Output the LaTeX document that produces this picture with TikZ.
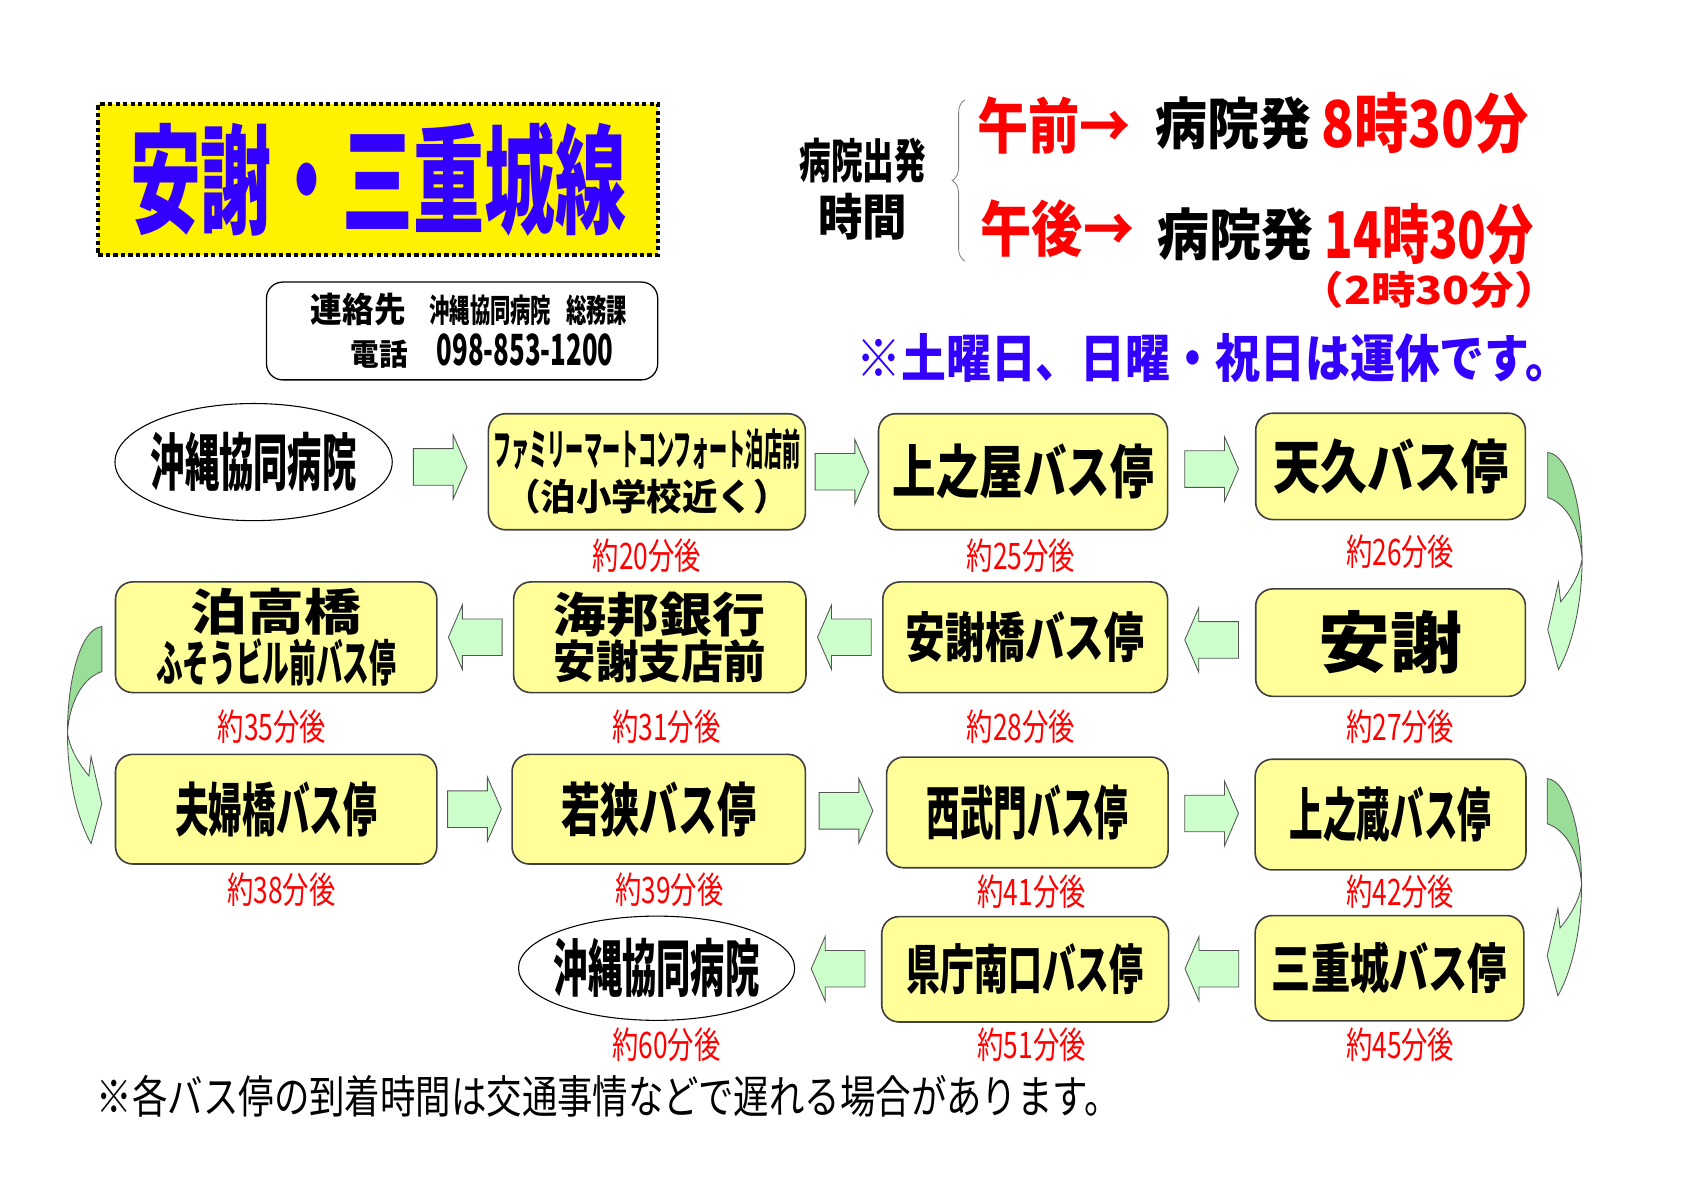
\documentclass[tikz,border=0pt]{standalone}
\usepackage{fontspec}
\usepackage{graphicx}
\setmainfont{Noto Sans CJK JP}
\usetikzlibrary{calc,shapes.geometric,decorations.pathreplacing}
\definecolor{ttl}{HTML}{3300FF}
\definecolor{stopfill}{HTML}{FFFF99}
\definecolor{stopline}{HTML}{404040}
\definecolor{arrfill}{HTML}{CCFFCC}
\definecolor{arrdark}{HTML}{99DD99}
\definecolor{arrline}{HTML}{555555}
\newcommand{\sx}[3]{{\fontsize{#1}{#1}\selectfont\scalebox{#2}[1]{#3}}}
\newcommand{\flowR}[2]{\draw[flow]($(#1.east)!.5!(#2.west)$)++(-25,-17)--++(37,0)--++(0,-13)--++(13,30)--++(-13,30)--++(0,-13)--++(-37,0)--cycle;}
\newcommand{\flowL}[2]{\draw[flow]($(#1.west)!.5!(#2.east)$)++(25,-17)--++(-37,0)--++(0,-13)--++(-13,30)--++(13,30)--++(0,-13)--++(37,0)--cycle;}
\newcommand{\flowbend}[3][]{\begin{scope}[shift={($(#2)!.5!(#3)$)},#1]
\draw[flowback](20,-95)--(20,-53)..controls(38,-47)and(50,-25)..(52,4)..controls(52,-45)and(40,-93)..(20,-95)--cycle;
\draw[flow](52,4)..controls(52,40)and(45,80)..(30,107)--(20,70)--(30,26)--(32,44)..controls(42,32)and(50,18)..(52,4)--cycle;
\end{scope}}
\begin{document}
\begin{tikzpicture}[x=1pt,y=-1pt,
stop/.style={draw=stopline,line width=1.5,fill=stopfill,rounded corners=16,inner sep=0,font=\bfseries},
hosp/.style={draw,ellipse,line width=1,fill=white,inner xsep=-12,inner ysep=0,font=\bfseries},
time/.style={text=red,inner sep=0},
flow/.style={draw=arrline,line width=.8,fill=arrfill},
flowback/.style={draw=arrline,line width=.8,fill=arrdark}]
\path[use as bounding box,fill=white](0,0)rectangle(1568,1108);
\node[fill=yellow,draw,line width=4pt,dash pattern=on 4pt off 3pt,minimum width=521,minimum height=140,inner sep=0](30)at(352,167){\color{ttl}\bfseries\sx{110}{.6}{安謝・三重城線}};
\node[draw,line width=1.2,rounded corners=15,minimum width=364,minimum height=91,align=left,inner sep=0,font=\bfseries\fontsize{30}{40}\selectfont](31)at(430,308){\hspace*{13pt}\sx{32}{.92}{連絡先}\hspace{22pt}\sx{30}{.63}{沖縄協同病院}\hspace{14pt}\sx{30}{.63}{総務課}\\\hspace*{50pt}\sx{28}{.95}{電話}\hspace{27pt}\sx{40}{.6}{098-853-1200}};
\node[align=center,inner sep=0,font=\bfseries\fontsize{44}{53}\selectfont](32)at(803,176){\sx{44}{.67}{病院出発}\\\sx{46}{.9}{時間}};
\draw[decorate,decoration={brace,amplitude=12pt},line width=.8,draw=gray](898,243)--(898,93);
\node[text=red,inner sep=0,font=\bfseries](33)at(981,117){\sx{56}{.85}{午前→}};
\node[inner sep=0,font=\bfseries](34)at(1148,115){\sx{52}{.93}{病院発}};
\node[text=red,inner sep=0,font=\bfseries](35)at(1326,115){\sx{60}{.84}{8時30分}};
\node[text=red,inner sep=0,font=\bfseries](36)at(984,213){\sx{56}{.85}{午後→}};
\node[inner sep=0,font=\bfseries](37)at(1150,218){\sx{52}{.93}{病院発}};
\node[text=red,inner sep=0,font=\bfseries](38)at(1330,218){\sx{60}{.73}{14時30分}};
\node[text=red,inner sep=0,font=\bfseries](39)at(1330,270){\sx{36}{1.15}{（2時30分）}};
\node[text=ttl,inner sep=0,font=\bfseries](40)at(1129,333){\sx{48}{.87}{※土曜日、日曜・祝日は運休です。}};
\node[hosp,minimum width=258,minimum height=109](1)at(236,430){\sx{58}{.55}{沖縄協同病院}};
\node[stop,minimum width=295,minimum height=108,align=center,font=\bfseries\fontsize{40}{42}\selectfont](2)at(602,439){\sx{40}{.42}{ファミリーマートコンフォート泊店前}\\\sx{34}{.97}{（泊小学校近く）}};
\node[stop,minimum width=269,minimum height=108](3)at(952,439){\sx{54}{.75}{上之屋バス停}};
\node[stop,minimum width=251,minimum height=99](4)at(1294,434){\sx{54}{.81}{天久バス停}};
\node[stop,minimum width=251,minimum height=100](5)at(1294,598){\sx{62}{1.08}{安謝}};
\node[stop,minimum width=265,minimum height=103](6)at(954,593){\sx{50}{.74}{安謝橋バス停}};
\node[stop,minimum width=272,minimum height=103,align=center,font=\bfseries\fontsize{44}{43}\selectfont](7)at(614,593){\sx{44}{1.12}{海邦銀行}\\\sx{42}{.94}{安謝支店前}};
\node[stop,minimum width=299,minimum height=103,align=center,font=\bfseries\fontsize{46}{47}\selectfont](8)at(257,593){\sx{46}{1.15}{泊高橋}\\\sx{46}{.54}{ふそうビル前バス停}};
\node[stop,minimum width=299,minimum height=102](9)at(257,753){\sx{54}{.58}{夫婦橋バス停}};
\node[stop,minimum width=273,minimum height=102](10)at(613,753){\sx{54}{.67}{若狭バス停}};
\node[stop,minimum width=262,minimum height=103](11)at(956,756){\sx{54}{.58}{西武門バス停}};
\node[stop,minimum width=252,minimum height=103](12)at(1294,758){\sx{54}{.58}{上之蔵バス停}};
\node[stop,minimum width=250,minimum height=98](13)at(1293,901){\sx{50}{.73}{三重城バス停}};
\node[stop,minimum width=267,minimum height=98](14)at(954,902){\sx{50}{.63}{県庁南口バス停}};
\node[hosp,minimum width=257,minimum height=97](15)at(611,901){\sx{58}{.55}{沖縄協同病院}};
\node[time](16)at(602,517){\sx{34}{.72}{約20分後}};
\node[time](17)at(950,517){\sx{34}{.72}{約25分後}};
\node[time](18)at(1303,513){\sx{34}{.72}{約26分後}};
\node[time](19)at(1303,676){\sx{34}{.72}{約27分後}};
\node[time](20)at(950,676){\sx{34}{.72}{約28分後}};
\node[time](21)at(620,676){\sx{34}{.72}{約31分後}};
\node[time](22)at(253,676){\sx{34}{.72}{約35分後}};
\node[time](23)at(262,828){\sx{34}{.72}{約38分後}};
\node[time](24)at(623,828){\sx{34}{.72}{約39分後}};
\node[time](25)at(960,830){\sx{34}{.72}{約41分後}};
\node[time](26)at(1303,830){\sx{34}{.72}{約42分後}};
\node[time](27)at(1303,972){\sx{34}{.72}{約45分後}};
\node[time](28)at(960,972){\sx{34}{.72}{約51分後}};
\node[time](29)at(620,972){\sx{34}{.72}{約60分後}};
\node[anchor=west,inner sep=0](41)at(90,1020){\sx{42}{.785}{※各バス停の到着時間は交通事情などで遅れる場合があります。}};
\flowR{1}{2}\flowR{2}{3}\flowR{3}{4}
\flowbend{4.east}{5.east}
\flowL{5}{6}\flowL{6}{7}\flowL{7}{8}
\flowbend[xshift=8,yshift=-5,xscale=-1]{8.west}{9.west}
\flowR{9}{10}\flowR{10}{11}\flowR{11}{12}
\flowbend[yshift=10]{12.east}{13.east}
\flowL{13}{14}\flowL{14}{15}
\end{tikzpicture}
\end{document}
